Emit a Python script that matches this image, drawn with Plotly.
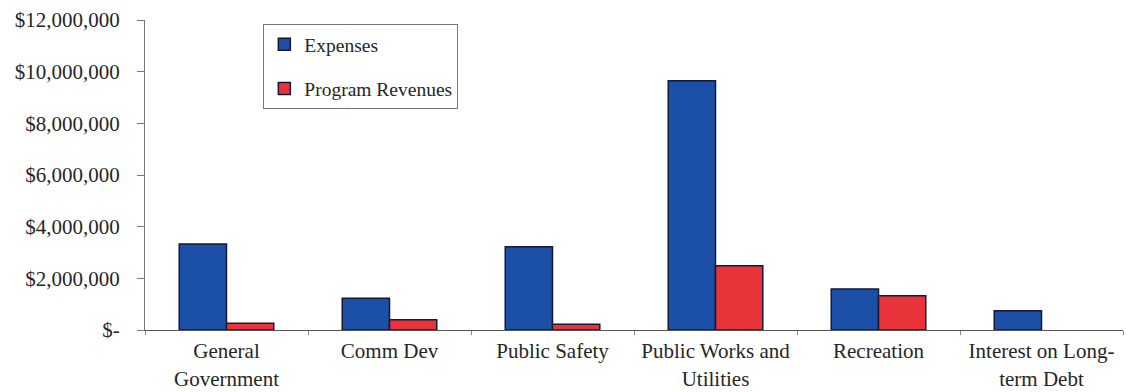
import plotly.graph_objects as go

# Governmental activities: expenses vs. program revenues by function
categories = [
    "General<br>Government",
    "Comm Dev",
    "Public Safety",
    "Public Works and<br>Utilities",
    "Recreation",
    "Interest on Long-<br>term Debt",
]
expenses = [3330000, 1230000, 3220000, 9650000, 1590000, 750000]
program_revenues = [260000, 400000, 220000, 2490000, 1330000, None]

y_ticks = [0, 2000000, 4000000, 6000000, 8000000, 10000000, 12000000]
y_tick_labels = ["$-", "$2,000,000", "$4,000,000", "$6,000,000",
                 "$8,000,000", "$10,000,000", "$12,000,000"]

FONT = "Liberation Serif, Times New Roman, serif"
BLUE = "#1B4FA8"
RED = "#E8333B"
OUTLINE = "#141a33"
TEXT = "#262626"

fig = go.Figure()
fig.add_trace(go.Bar(
    name="Expenses", x=categories, y=expenses,
    marker=dict(color=BLUE, line=dict(color=OUTLINE, width=1.5)),
    legendgroup="exp",
))
fig.add_trace(go.Bar(
    name="Program Revenues", x=categories, y=program_revenues,
    marker=dict(color=RED, line=dict(color=OUTLINE, width=1.5)),
    legendgroup="rev",
))

fig.update_layout(
    width=1126, height=392,
    margin=dict(l=145, r=3, t=20, b=62),
    paper_bgcolor="white", plot_bgcolor="white",
    barmode="group", bargap=0.42, bargroupgap=0,
    font=dict(family=FONT, size=21, color=TEXT),
    legend=dict(
        x=0.121, y=0.987, xanchor="left", yanchor="top",
        bordercolor="#777", borderwidth=1, bgcolor="white",
        font=dict(family=FONT, size=19.5, color=TEXT),
        traceorder="grouped", tracegroupgap=16,
    ),
    xaxis=dict(
        automargin=False,
        showline=True, linecolor="#555", linewidth=1,
        ticks="outside", ticklen=4, tickcolor="#888",
        tickson="boundaries", showgrid=False,
        ticklabelstandoff=2,
        tickfont=dict(family=FONT, size=21, color=TEXT),
    ),
    yaxis=dict(
        automargin=False,
        range=[0, 12000000],
        tickvals=y_ticks, ticktext=y_tick_labels,
        showline=True, linecolor="#777", linewidth=1,
        ticks="outside", ticklen=7, tickcolor="#777",
        ticklabelstandoff=13,
        showgrid=False, zeroline=False,
        tickfont=dict(family=FONT, size=21, color=TEXT),
    ),
)

fig.write_html("out.html")
